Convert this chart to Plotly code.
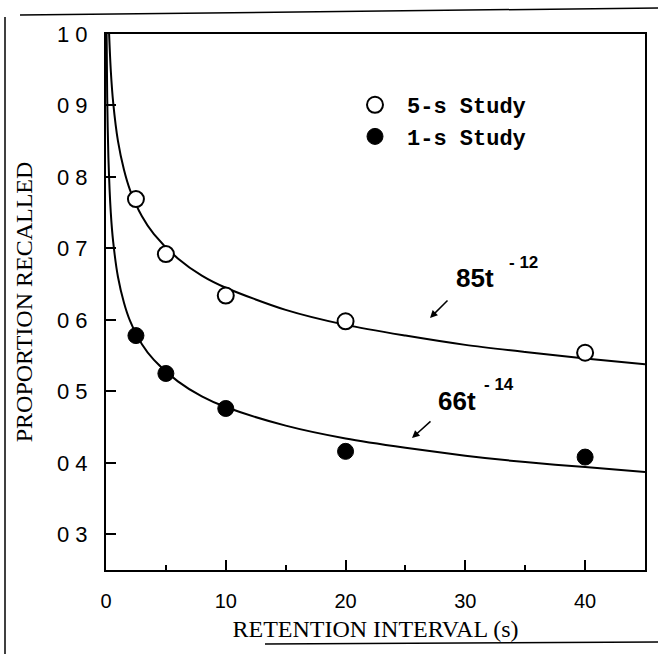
import plotly.graph_objects as go

# ---- data ----
t_points = [2.5, 5, 10, 20, 40]
study5_values = [0.769, 0.692, 0.634, 0.598, 0.554]
study1_values = [0.578, 0.525, 0.476, 0.416, 0.408]

curve5_t = [0.26, 0.4, 0.6, 1, 1.5, 2, 3, 4, 6, 8, 10, 15, 20, 25, 30, 35, 40, 45]
curve5_y = [1.0, 0.949, 0.904, 0.85, 0.81, 0.782, 0.745, 0.72, 0.686, 0.662, 0.645,
            0.614, 0.593, 0.578, 0.565, 0.555, 0.546, 0.538]
curve1_t = [0.05, 0.1, 0.2, 0.4, 0.6, 1, 1.5, 2, 3, 4, 6, 8, 10, 15, 20, 25, 30, 35, 40, 45]
curve1_y = [1.0, 0.911, 0.827, 0.75, 0.709, 0.66, 0.624, 0.599, 0.566, 0.544, 0.514,
            0.493, 0.478, 0.452, 0.434, 0.421, 0.41, 0.401, 0.394, 0.387]

x_tick_vals = [0, 10, 20, 30, 40]
x_tick_text = ["0", "10", "20", "30", "40"]
y_tick_vals = [0.3, 0.4, 0.5, 0.6, 0.7, 0.8, 0.9, 1.0]
y_tick_text = ["0 3", "0 4", "0 5", "0 6", "0 7", "0 8", "0 9", "1 0"]
minor_x_vals = [5, 15, 25, 35]

W, H = 658, 654
# plot area in screen pixels
SL, SR, ST, SB = 106, 645, 34, 570
ML, MT = SL, ST
MR, MB = W - SR, H - SB
PW, PH = SR - SL, SB - ST


def px(xs):
    return (xs - SL) / PW


def py(ys):
    return (SB - ys) / PH


def dx(xs):
    return (xs - SL) / PW * 45.0


def dy(ys):
    return 1.0 - (ys - ST) / PH * 0.75


fig = go.Figure()

fig.add_trace(go.Scatter(x=curve5_t, y=curve5_y, mode="lines", showlegend=False,
                         line=dict(color="black", width=2, shape="spline", smoothing=0.8),
                         hoverinfo="skip"))
fig.add_trace(go.Scatter(x=curve1_t, y=curve1_y, mode="lines", showlegend=False,
                         line=dict(color="black", width=2, shape="spline", smoothing=0.8),
                         hoverinfo="skip"))
fig.add_trace(go.Scatter(x=t_points, y=study5_values, mode="markers", name="5-s Study",
                         marker=dict(symbol="circle", size=16, color="white",
                                     line=dict(color="black", width=2))))
fig.add_trace(go.Scatter(x=t_points, y=study1_values, mode="markers", name="1-s Study",
                         marker=dict(symbol="circle", size=16, color="black",
                                     line=dict(color="black", width=1))))

fig.update_xaxes(minor=dict(tickvals=minor_x_vals, ticks="inside", ticklen=5,
                            tickcolor="black", tickwidth=1.5))

fig.update_xaxes(range=[0, 45], tickvals=x_tick_vals, ticktext=x_tick_text,
                 ticks="inside", ticklen=10, tickwidth=1.5, tickcolor="black",
                 showline=True, linewidth=2, linecolor="black", mirror=True,
                 showgrid=False, zeroline=False, ticklabelstandoff=12,
                 tickfont=dict(family="Liberation Sans", size=20, color="black"),
                 title=dict(text="RETENTION INTERVAL (s)", standoff=9,
                            font=dict(family="Liberation Serif", size=24, color="black")))
fig.update_yaxes(range=[0.25, 1.0], tickvals=y_tick_vals, ticktext=y_tick_text,
                 ticks="inside", ticklen=10, tickwidth=1.5, tickcolor="black",
                 showline=True, linewidth=2, linecolor="black", mirror=True,
                 showgrid=False, zeroline=False, ticklabelstandoff=12,
                 tickfont=dict(family="Liberation Sans", size=22, color="black"),
                 title=dict(text="PROPORTION RECALLED", standoff=18,
                            font=dict(family="Liberation Serif", size=24, color="black")))

ann_font = dict(family="Liberation Sans", size=26, color="black", weight="bold")
sup_font = dict(family="Liberation Sans", size=17, color="black", weight="bold")
annotations = [
    dict(x=dx(454), y=dy(278), text="85t", showarrow=False, xanchor="left", yanchor="middle", font=ann_font),
    dict(x=dx(507), y=dy(262), text="- 12", showarrow=False, xanchor="left", yanchor="middle", font=sup_font),
    dict(x=dx(436), y=dy(401), text="66t", showarrow=False, xanchor="left", yanchor="middle", font=ann_font),
    dict(x=dx(482), y=dy(384), text="- 14", showarrow=False, xanchor="left", yanchor="middle", font=sup_font),
    dict(x=dx(430), y=dy(318), text="", showarrow=True, ax=19, ay=-19, arrowhead=2,
         arrowsize=1, arrowwidth=1.5, arrowcolor="black", standoff=0),
    dict(x=dx(412), y=dy(438), text="", showarrow=True, ax=20, ay=-18, arrowhead=2,
         arrowsize=1, arrowwidth=1.5, arrowcolor="black", standoff=0),
]

shapes = [
    dict(type="line", xref="paper", yref="paper", x0=px(20), y0=py(15), x1=px(658), y1=py(8),
         line=dict(color="black", width=1.5)),
    dict(type="line", xref="paper", yref="paper", x0=px(5), y0=py(17), x1=px(5), y1=py(654),
         line=dict(color="black", width=1.5)),
    dict(type="line", xref="paper", yref="paper", x0=px(265), y0=py(644), x1=px(658), y1=py(642),
         line=dict(color="black", width=1.5)),
]

fig.update_layout(
    width=W, height=H,
    margin=dict(l=ML, r=MR, t=MT, b=MB),
    paper_bgcolor="white", plot_bgcolor="white",
    showlegend=True,
    legend=dict(x=px(343), y=py(84), xanchor="left", yanchor="top",
                bgcolor="rgba(0,0,0,0)", borderwidth=0, itemwidth=54,
                font=dict(family="Liberation Mono", size=22, color="black", weight="bold"),
                tracegroupgap=0),
    annotations=annotations,
    shapes=shapes,
)

fig.write_html("out.html", config={"displayModeBar": False},
               post_script="document.body.style.margin='0px';")
